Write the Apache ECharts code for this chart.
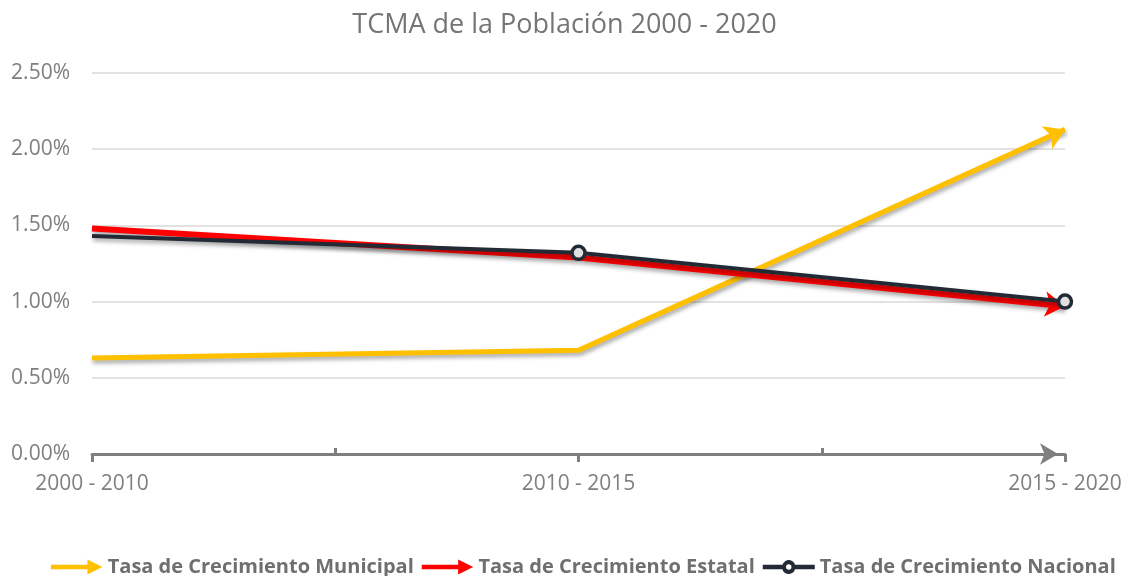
<!DOCTYPE html>
<html>
<head>
<meta charset="utf-8">
<script src="https://cdn.jsdelivr.net/npm/echarts@6/dist/echarts.min.js"></script>
<style>
  html, body { margin: 0; padding: 0; background: #fff; }
  #main { width: 1129px; height: 576px; }
</style>
</head>
<body>
<div id="main"></div>
<script>
// periodos y tasas (en %)
var periodos = ['2000 - 2010', '2010 - 2015', '2015 - 2020'];
var municipal = [0.63, 0.68, 2.13];
var estatal = [1.48, 1.29, 0.97];
var nacional = [1.43, 1.32, 1.00];
var nombres = ['Tasa de Crecimiento Municipal', 'Tasa de Crecimiento Estatal', 'Tasa de Crecimiento Nacional'];

var fuente = "'Open Sans', sans-serif";
var sombra = {
    shadowColor: 'rgba(0,0,0,0.35)',
    shadowBlur: 4,
    shadowOffsetX: 1,
    shadowOffsetY: 3
};

var iconoFlecha = 'path://M0,5H34V9H0Z M34,0L48,7L34,14Z';
var iconoCirculo = 'path://M0,5H18.2A6,6 0 0,1 29.8,5H48V9H29.8A6,6 0 0,1 18.2,9H0Z M24,4.5A2.5,2.5 0 1,0 24,9.5A2.5,2.5 0 1,0 24,4.5Z';

function ultimoConFlecha(valores, rot) {
    return valores.map(function (v, i) {
        if (i === valores.length - 1) {
            return { value: v, symbol: 'arrow', symbolSize: [19, 20], symbolRotate: rot };
        }
        return { value: v, symbol: 'none' };
    });
}

var TcmaChart;

function loadTcmaChart(divName) {
    TcmaChart = echarts.init(document.getElementById(divName));

    var option = {
        animation: false,
        title: {
            text: 'TCMA de la Población 2000 - 2020',
            left: 'center',
            top: 7,
            textStyle: { fontFamily: fuente, fontSize: 27, fontWeight: 'normal', color: '#757575' }
        },
        legend: {
            top: 552,
            left: 46,
            itemWidth: 52,
            itemHeight: 15,
            itemGap: 8,
            textStyle: { fontFamily: fuente, fontSize: 20, fontWeight: 'bold', color: '#6f6f6f' },
            data: [
                { name: nombres[0], icon: iconoFlecha, itemStyle: { color: '#ffc000', borderWidth: 0 } },
                { name: nombres[1], icon: iconoFlecha, itemStyle: { color: '#ff0000', borderWidth: 0 } },
                { name: nombres[2], icon: iconoCirculo, itemStyle: { color: '#222a35', borderWidth: 0 } }
            ]
        },
        grid: { left: 92, right: 64, top: 73, bottom: 122 },
        xAxis: [
            {
                type: 'category',
                data: periodos,
                boundaryGap: false,
                axisLine: {
                    lineStyle: { color: '#7f7f7f', width: 3 },
                    symbol: ['none', 'arrow'],
                    symbolSize: [16, 18],
                    symbolOffset: [0, -7]
                },
                axisTick: { show: true, length: 8, lineStyle: { color: '#7f7f7f', width: 3 } },
                axisLabel: { fontFamily: fuente, fontSize: 21, color: '#7f7f7f', margin: 20 },
                splitLine: { show: false }
            },
            {
                // marcas intermedias hacia arriba
                type: 'category',
                position: 'bottom',
                data: ['', '', '', '', ''],
                boundaryGap: false,
                axisLine: { show: false },
                axisTick: {
                    show: true,
                    inside: true,
                    length: 6,
                    interval: function (i) { return i % 2 === 1; },
                    lineStyle: { color: '#7f7f7f', width: 3 }
                },
                axisLabel: { show: false }
            }
        ],
        yAxis: {
            type: 'value',
            min: 0,
            max: 2.5,
            interval: 0.5,
            axisLine: { show: false },
            axisTick: { show: false },
            axisLabel: {
                fontFamily: fuente, fontSize: 21, color: '#7f7f7f', margin: 22,
                formatter: function (v) { return v.toFixed(2) + '%'; }
            },
            splitLine: { lineStyle: { color: '#d9d9d9', width: 1.5 } }
        },
        series: [
            {
                name: nombres[0],
                type: 'line',
                data: ultimoConFlecha(municipal, -65),
                color: '#ffc000',
                lineStyle: Object.assign({ width: 5, color: '#ffc000' }, sombra),
                itemStyle: { color: '#ffc000' },
                z: 3
            },
            {
                name: nombres[1],
                type: 'line',
                data: ultimoConFlecha(estatal, -96),
                color: '#ff0000',
                lineStyle: Object.assign({ width: 6, color: '#ff0000' }, sombra),
                itemStyle: { color: '#ff0000' },
                z: 4
            },
            {
                name: nombres[2],
                type: 'line',
                data: nacional.map(function (v, i) {
                    return i === 0 ? { value: v, symbol: 'none' } : { value: v };
                }),
                symbol: 'circle',
                symbolSize: 13,
                showAllSymbol: true,
                color: '#222a35',
                lineStyle: Object.assign({ width: 4, color: '#222a35' }, sombra),
                itemStyle: { color: '#e0e0e0', borderColor: '#222a35', borderWidth: 3.5 },
                z: 5
            }
        ]
    };

    TcmaChart.setOption(option, true);

    window.addEventListener('resize', function () {
        TcmaChart.resize();
    });
}

loadTcmaChart('main');
</script>
</body>
</html>
